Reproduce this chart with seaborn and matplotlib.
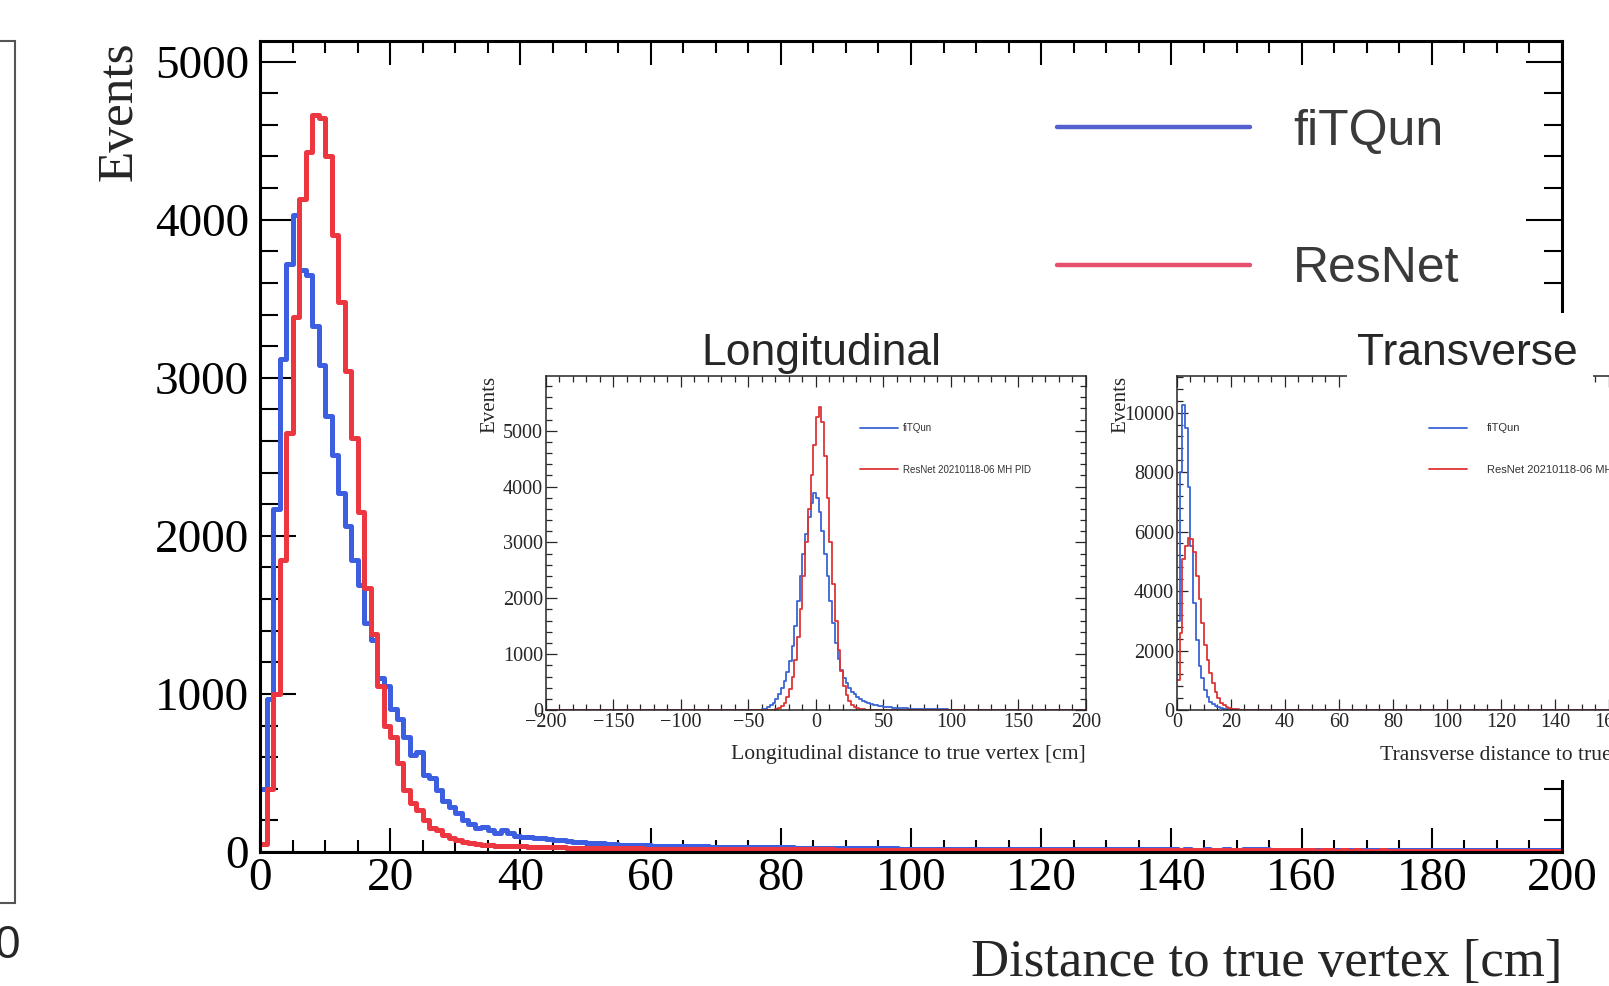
import numpy as np
import pandas as pd
import matplotlib
matplotlib.use("Agg")
import matplotlib.pyplot as plt
import seaborn as sns
from matplotlib.lines import Line2D
from matplotlib.patches import Rectangle
from matplotlib.ticker import MultipleLocator

# main plot: distance to true vertex, 1 cm bins 0..200
fitqun = [
    400, 970, 2170, 3120, 3720, 4030, 3680, 3650, 3330, 3080,
    2760, 2510, 2270, 2060, 1850, 1690, 1450, 1340, 1100, 1050,
    905, 840, 730, 615, 635, 490, 465, 390, 320, 285,
    245, 205, 180, 150, 160, 140, 120, 140, 118, 100,
    95, 92, 90, 86, 84, 78, 76, 70, 66, 64,
    58, 56, 54, 52, 50, 46, 45, 44, 43, 42,
    40, 39, 38, 38, 37, 37, 36, 36, 35, 34,
    34, 33, 33, 32, 32, 31, 31, 30, 30, 30,
    29, 29, 28, 28, 27, 27, 26, 26, 26, 25,
    25, 25, 25, 24, 24, 24, 23, 23, 22, 22,
    22, 21, 21, 21, 21, 21, 20, 20, 20, 20,
    20, 19, 19, 19, 18, 18, 18, 18, 19, 18,
    18, 17, 17, 18, 17, 17, 17, 16, 17, 17,
    16, 16, 17, 16, 16, 17, 19, 20, 18, 16,
    16, 15, 16, 15, 15, 16, 15, 15, 16, 15,
    15, 16, 18, 19, 17, 15, 15, 14, 15, 14,
    14, 15, 14, 14, 15, 14, 14, 13, 14, 14,
    14, 13, 14, 14, 13, 14, 13, 13, 14, 13,
    13, 13, 14, 13, 13, 12, 13, 13, 12, 13,
    13, 12, 12, 13, 12, 12, 13, 12, 12, 12,
]
resnet = [
    50, 400, 1000, 1850, 2650, 3385, 4130, 4430, 4660, 4640,
    4400, 3900, 3480, 3040, 2620, 2150, 1670, 1380, 1050, 800,
    730, 560, 395, 310, 265, 205, 150, 140, 108, 86,
    76, 65, 55, 48, 44, 42, 40, 38, 37, 36,
    35, 34, 33, 32, 31, 30, 29, 28, 27, 27,
    26, 26, 25, 25, 24, 24, 23, 23, 23, 22,
    22, 21, 21, 21, 20, 20, 20, 20, 19, 19,
    19, 19, 18, 18, 18, 18, 18, 17, 17, 17,
    17, 17, 16, 16, 16, 16, 16, 16, 15, 15,
    15, 15, 15, 15, 15, 14, 14, 14, 14, 14,
    14, 14, 13, 14, 13, 13, 13, 13, 13, 13,
    13, 13, 12, 13, 12, 12, 12, 12, 12, 12,
    12, 12, 12, 11, 12, 11, 11, 12, 11, 11,
    11, 11, 11, 11, 11, 11, 11, 10, 11, 11,
    11, 12, 13, 12, 11, 10, 10, 11, 10, 10,
    10, 10, 10, 10, 10, 10, 11, 10, 10, 10,
    10, 10, 9, 10, 10, 9, 10, 9, 10, 9,
    9, 9, 10, 9, 9, 9, 9, 9, 9, 9,
    9, 9, 9, 8, 9, 9, 8, 9, 9, 8,
    8, 9, 8, 8, 9, 8, 8, 8, 8, 8,
]

# longitudinal inset: 2 cm bins from -44 to 100, empty outside
long_fitqun = [
    3, 6, 12, 25, 50, 85, 130, 200, 290, 400,
    520, 680, 880, 1150, 1500, 1950, 2400, 2800, 3150, 3450,
    3700, 3880, 3800, 3550, 3200, 2800, 2400, 1950, 1550, 1200,
    920, 720, 580, 480, 400, 330, 280, 235, 200, 170,
    145, 125, 108, 94, 82, 72, 64, 57, 51, 46,
    42, 38, 35, 32, 30, 28, 26, 24, 22, 21,
    20, 18, 17, 16, 15, 14, 13, 12, 11, 10,
    10, 9,
]
long_resnet = [
    0, 0, 0, 0, 0, 3, 8, 18, 35, 70,
    130, 230, 380, 600, 900, 1300, 1800, 2400, 3000, 3600,
    4200, 4750, 5250, 5420, 5150, 4550, 3800, 3000, 2250, 1600,
    1080, 700, 430, 260, 155, 95, 58, 36, 22, 14,
    9, 6, 4, 3, 2, 1, 1, 1, 1, 1,
    1, 0, 1, 0, 0, 1, 0, 0, 0, 0,
    0, 0, 0, 0, 0, 0, 0, 0, 0, 0,
    0, 0,
]

# transverse inset: 1 cm bins from 0 to 30, then one wide empty bin
trans_fitqun = [
    3000, 8000, 10250, 9470, 7500, 5520, 3600, 2370, 1465, 1070,
    676, 450, 280, 200, 135, 95, 70, 50, 40, 30,
    22, 16, 12, 9, 7, 5, 4, 3, 2, 2,
]
trans_resnet = [
    1000, 2600, 5070, 5520, 5800, 5750, 5300, 4500, 3720, 2930,
    2200, 1690, 1240, 900, 620, 395, 250, 170, 110, 70,
    45, 30, 20, 12, 8, 5, 3, 2, 1, 1,
]

BLUE = "#3b5fe0"
RED = "#ec3640"
IN_BLUE = "#3c64d4"
IN_RED = "#dc3535"

sns.set_style("ticks")
plt.rcParams["font.family"] = ["Liberation Serif", "DejaVu Serif"]
plt.rcParams["axes.unicode_minus"] = True

fig = plt.figure(figsize=(16.09, 9.86), dpi=100)
fig.patch.set_facecolor("white")


def step_hist(ax, edges, values, color, lw):
    edges = [float(e) for e in edges]
    centers = [0.5 * (a + b) for a, b in zip(edges[:-1], edges[1:])]
    df = pd.DataFrame({"x": centers, "w": [float(v) for v in values]})
    sns.histplot(data=df, x="x", weights="w", bins=edges, element="step",
                 fill=False, color=color, linewidth=lw, ax=ax)


# ---- main axes
ax = fig.add_axes([0.1616, 0.1359, 0.8092, 0.8225], zorder=0)
main_edges = np.arange(0, 201, 1)
step_hist(ax, main_edges, fitqun, BLUE, 3.6)
step_hist(ax, main_edges, resnet, RED, 3.6)
ax.set_xlim(0, 200)
ax.set_ylim(0, 5130)
ax.xaxis.set_major_locator(MultipleLocator(20))
ax.xaxis.set_minor_locator(MultipleLocator(5))
ax.yaxis.set_major_locator(MultipleLocator(1000))
ax.yaxis.set_minor_locator(MultipleLocator(200))
ax.tick_params(which="both", direction="in", top=True, right=True, width=1.5,
               labelsize=34, colors="black")
ax.tick_params(axis="x", which="major", length=17, pad=4)
ax.tick_params(axis="x", which="minor", length=8.5)
ax.tick_params(axis="y", which="major", length=26, pad=8)
ax.tick_params(axis="y", which="minor", length=13)
for s in ax.spines.values():
    s.set_linewidth(2.2)
    s.set_color("black")
ax.set_xlabel("Distance to true vertex [cm]", fontsize=38, loc="right")
ax.xaxis.set_label_coords(1.0, -0.137)
ax.xaxis.label.set_va("center")
ax.set_ylabel("Events", fontsize=37, loc="top")
ax.yaxis.set_label_coords(-0.108, 1.0)
ax.yaxis.label.set_va("center")

leg_handles = [Line2D([], [], color="#5560cf", lw=3.2),
               Line2D([], [], color="#e6506e", lw=3.2)]
leg = fig.legend(leg_handles, ["fiTQun", "ResNet"], loc="center left",
                 bbox_to_anchor=(0.657, 0.7965), frameon=False,
                 prop={"family": "Liberation Sans", "size": 36},
                 handlelength=3.86, handletextpad=0.86, labelspacing=1.83,
                 borderpad=0, borderaxespad=0)
for t in leg.get_texts():
    t.set_color("#3a3a3a")

# white patch of the pasted transverse picture
fig.add_artist(Rectangle((0.6837, 0.2089), 0.3163, 0.4736, transform=fig.transFigure,
                         facecolor="white", edgecolor="none", zorder=1))

# left neighbour frame, cut by the page
fig.add_artist(Rectangle((-0.02, 0.0842), 0.02957, 0.8742, transform=fig.transFigure,
                         facecolor="none", edgecolor="#555555", lw=1.5, zorder=1))
fig.text(0.0125, 0.0405, "0", ha="right", va="center", fontsize=33,
         family="Liberation Sans")


def style_inset(a, xlabel, xmaj, xmin, ymaj, ymin):
    a.set_facecolor("white")
    a.xaxis.set_major_locator(MultipleLocator(xmaj))
    a.xaxis.set_minor_locator(MultipleLocator(xmin))
    a.yaxis.set_major_locator(MultipleLocator(ymaj))
    a.yaxis.set_minor_locator(MultipleLocator(ymin))
    a.tick_params(which="both", direction="in", top=True, right=True, width=0.9,
                  labelsize=14.5, pad=2)
    a.tick_params(which="major", length=8)
    a.tick_params(which="minor", length=4)
    for s in a.spines.values():
        s.set_linewidth(1.1)
    a.set_xlabel(xlabel, fontsize=15.6, loc="right")
    a.xaxis.set_label_coords(1.0, -0.134)
    a.xaxis.label.set_va("center")
    a.set_ylabel("Events", fontsize=15, loc="top")
    a.yaxis.set_label_coords(-0.104, 1.0)
    a.yaxis.label.set_va("center")


def inset_legend(a, x, y, size, textpad):
    hs = [Line2D([], [], color=IN_BLUE, lw=1.3), Line2D([], [], color=IN_RED, lw=1.3)]
    lg = a.legend(hs, ["fiTQun", "ResNet 20210118-06 MH PID"], loc="center left",
                  bbox_to_anchor=(x, y), bbox_transform=fig.transFigure, frameon=False,
                  prop={"family": "Liberation Sans", "size": size},
                  handlelength=38 / (size * 100 / 72), handletextpad=textpad,
                  labelspacing=3.2 * 7 / size, borderpad=0, borderaxespad=0)
    for t in lg.get_texts():
        t.set_color("#333333")


# ---- longitudinal inset
axl = fig.add_axes([0.3393, 0.2799, 0.3356, 0.3387], zorder=3)
long_edges = np.concatenate([[-200], np.arange(-44, 101, 2), [200]])
step_hist(axl, long_edges, [0] + long_fitqun + [4], IN_BLUE, 1.3)
step_hist(axl, long_edges, [0] + long_resnet + [0], IN_RED, 1.3)
axl.set_xlim(-200, 200)
axl.set_ylim(0, 5980)
style_inset(axl, "Longitudinal distance to true vertex [cm]", 50, 10, 1000, 200)
inset_legend(axl, 0.5345, 0.5446, 7, 0.5)

# ---- transverse inset (runs off the page)
axt = fig.add_axes([0.7315, 0.2799, 0.3356, 0.3387], zorder=3)
trans_edges = np.concatenate([np.arange(0, 31, 1), [200]])
step_hist(axt, trans_edges, trans_fitqun + [1], IN_BLUE, 1.3)
step_hist(axt, trans_edges, trans_resnet + [1], IN_RED, 1.3)
axt.set_xlim(0, 200)
axt.set_ylim(0, 11230)
style_inset(axt, "Transverse distance to true vertex [cm]", 20, 5, 2000, 400)
inset_legend(axt, 0.888, 0.5446, 8, 1.8)

# titles of the pasted pictures
fig.add_artist(Rectangle((0.8372, 0.5963), 0.1529, 0.0811, transform=fig.transFigure,
                         facecolor="white", edgecolor="none", zorder=4))
fig.text(0.5103, 0.641, "Longitudinal", ha="center", va="center", fontsize=32,
         family="Liberation Sans", zorder=5)
fig.text(0.9117, 0.641, "Transverse", ha="center", va="center", fontsize=32,
         family="Liberation Sans", zorder=5)

fig.savefig("out.png", dpi=100, facecolor="white")
